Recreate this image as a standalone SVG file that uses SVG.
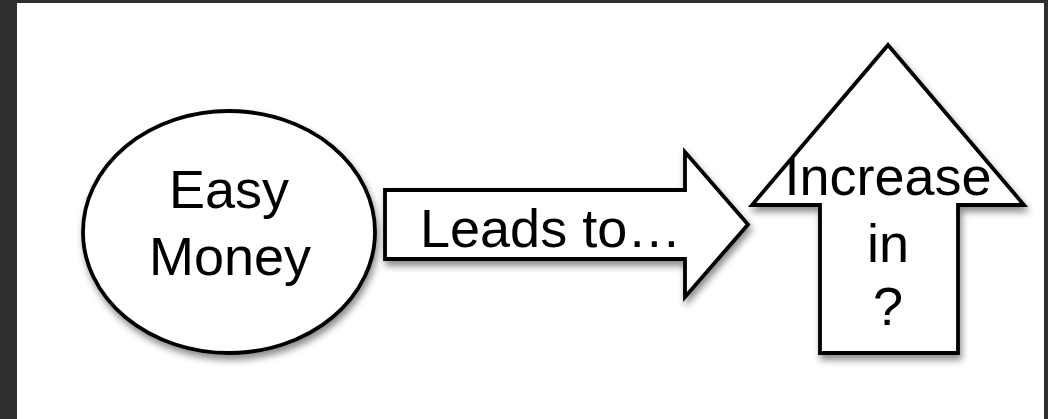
<svg xmlns="http://www.w3.org/2000/svg" width="1048" height="419" viewBox="0 0 1048 419">
  <defs>
    <filter id="shadow" x="-20%" y="-20%" width="150%" height="150%">
      <feDropShadow dx="2" dy="5" stdDeviation="3.5" flood-color="#000" flood-opacity="0.45"/>
    </filter>
  </defs>
  <style>
    .shape { fill: #ffffff; stroke: #000000; stroke-width: 3.8; stroke-linejoin: miter; filter: url(#shadow); }
    .label { font-family: "Liberation Sans", Arial, sans-serif; font-size: 54px; fill: #000000; }
  </style>
  <rect x="0" y="0" width="1048" height="419" fill="#2f2f2f"/>
  <rect x="17" y="3" width="1027" height="416" fill="#ffffff"/>

  <g id="easy-money">
    <ellipse class="shape" cx="229" cy="232" rx="146" ry="121"/>
    <text class="label" x="229" y="208" text-anchor="middle">Easy</text>
    <text class="label" x="230" y="275" text-anchor="middle">Money</text>
  </g>

  <g id="connectors">
    <g id="leads-to">
      <path class="shape" d="M385,190 L685,190 L685,152 L748,224.5 L685,297 L685,259 L385,259 Z"/>
      <text class="label" x="420" y="247">Leads to…</text>
    </g>
  </g>

  <g id="increase">
    <path class="shape" d="M888,45 L1024,205 L958,205 L958,353 L820,353 L820,205 L752,205 Z"/>
    <text class="label" x="888" y="195" text-anchor="middle">Increase</text>
    <text class="label" x="888" y="262" text-anchor="middle">in</text>
    <text class="label" x="888" y="325" text-anchor="middle">?</text>
  </g>
</svg>
